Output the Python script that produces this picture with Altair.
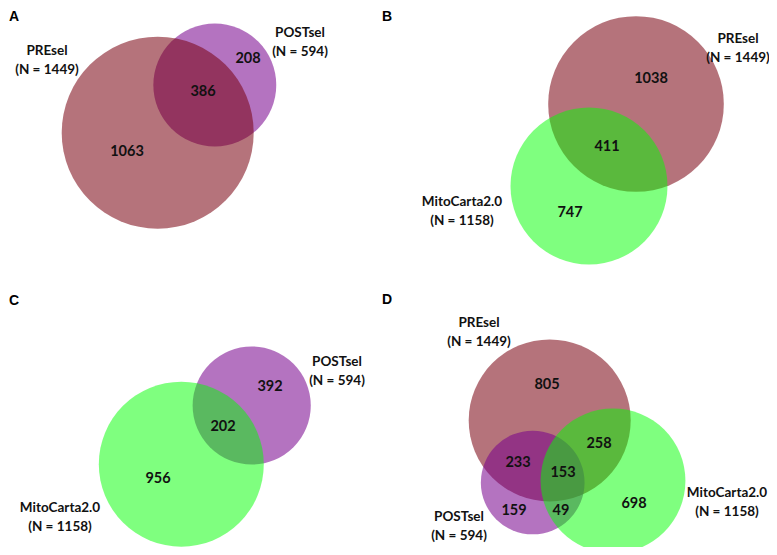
import altair as alt
import numpy as np
import pandas as pd

# ---------------- data ----------------
PANELS = ["A", "B", "C", "D"]
SET_NAMES = ["PREsel", "POSTsel", "MitoCarta2.0"]
SET_SIZES = [1449, 594, 1158]

# circles of each panel, in drawing order
CIRCLE_PANEL = ["A", "A", "B", "B", "C", "C", "D", "D", "D"]
CIRCLE_SET = ["POSTsel", "PREsel", "PREsel", "MitoCarta2.0",
              "POSTsel", "MitoCarta2.0", "PREsel", "POSTsel", "MitoCarta2.0"]

# region counts
COUNT_PANEL = ["A", "A", "A", "B", "B", "B", "C", "C", "C",
               "D", "D", "D", "D", "D", "D", "D"]
COUNT_VALUE = [1063, 386, 208, 1038, 411, 747, 956, 202, 392,
               805, 258, 233, 153, 159, 49, 698]

# set labels
LABEL_PANEL = ["A", "A", "B", "B", "C", "C", "D", "D", "D"]
LABEL_SET = ["PREsel", "POSTsel", "PREsel", "MitoCarta2.0",
             "POSTsel", "MitoCarta2.0", "PREsel", "POSTsel", "MitoCarta2.0"]

# ---------------- layout (page pixel coordinates) ----------------
PANEL_SCALE = {"A": 2.522, "B": 2.307, "C": 2.424, "D": 2.128}
CIRCLE_CX = [214.8, 157.7, 636.0, 589.0, 251.7, 181.3, 549.7, 532.7, 613.0]
CIRCLE_CY = [85.0, 132.7, 104.0, 186.0, 405.5, 464.2, 420.4, 482.5, 480.8]
COUNT_X = [127, 203, 248, 651, 607, 570, 158, 223, 270,
           547, 599, 518, 563, 514, 561, 634]
COUNT_Y = [152, 92, 59, 79, 147, 213, 479, 427, 387,
           385, 444, 463, 473, 511, 511, 504]
LABEL_X = [47, 300, 738, 462, 337, 60, 479, 459, 727]
LABEL_Y = [51, 33, 39, 202, 362, 508, 323, 517, 493]
LETTER_X = [14, 387, 14, 387]
LETTER_Y = [17, 17, 301, 300]

SET_COLOR = {"PREsel": "#78000f", "POSTsel": "#77008c", "MitoCarta2.0": "#00ff00"}
SET_ALPHA = {"PREsel": 0.55, "POSTsel": 0.55, "MitoCarta2.0": 0.5}
FONT = "Lato"

# ---------------- tables ----------------
n_of = dict(zip(SET_NAMES, SET_SIZES))
circles = pd.DataFrame({
    "panel": CIRCLE_PANEL, "set": CIRCLE_SET,
    "cx": CIRCLE_CX, "cy": CIRCLE_CY,
})
circles["N"] = circles["set"].map(n_of)
circles["r"] = circles["panel"].map(PANEL_SCALE) * np.sqrt(circles["N"])
circles["size"] = (2 * circles["r"]) ** 2
circles["alpha"] = circles["set"].map(SET_ALPHA)
circles["order"] = range(len(circles))

counts = pd.DataFrame({"panel": COUNT_PANEL, "value": COUNT_VALUE,
                       "x": COUNT_X, "y": COUNT_Y})

lab_rows = []
for p, s, x, y in zip(LABEL_PANEL, LABEL_SET, LABEL_X, LABEL_Y):
    lab_rows.append({"x": x, "y": y, "text": s})
    lab_rows.append({"x": x, "y": y + 19, "text": f"(N = {n_of[s]})"})
labels = pd.DataFrame(lab_rows)

letters = pd.DataFrame({"text": PANELS, "x": LETTER_X, "y": LETTER_Y})

W, H = 761, 539
xs = alt.Scale(domain=[8, 8 + W], nice=False, zero=False)
ys = alt.Scale(domain=[8, 8 + H], nice=False, zero=False, reverse=True)

circle_layer = alt.Chart(circles).mark_circle(strokeWidth=0).encode(
    x=alt.X("cx:Q", scale=xs, axis=None),
    y=alt.Y("cy:Q", scale=ys, axis=None),
    size=alt.Size("size:Q", scale=None),
    color=alt.Color("set:N", scale=alt.Scale(domain=list(SET_COLOR.keys()),
                                             range=list(SET_COLOR.values())),
                    legend=None),
    opacity=alt.Opacity("alpha:Q", scale=None),
    order=alt.Order("order:Q"),
)

count_layer = alt.Chart(counts).mark_text(
    font=FONT, fontSize=14.5, fontWeight="bold", color="#111111", baseline="middle"
).encode(
    x=alt.X("x:Q", scale=xs, axis=None),
    y=alt.Y("y:Q", scale=ys, axis=None),
    text="value:N",
)

label_layer = alt.Chart(labels).mark_text(
    font=FONT, fontSize=13.5, fontWeight="bold", color="#111111", baseline="middle"
).encode(
    x=alt.X("x:Q", scale=xs, axis=None),
    y=alt.Y("y:Q", scale=ys, axis=None),
    text="text:N",
)

letter_layer = alt.Chart(letters).mark_text(
    font="Liberation Sans", fontSize=14, fontWeight="bold", color="#000000",
    baseline="middle"
).encode(
    x=alt.X("x:Q", scale=xs, axis=None),
    y=alt.Y("y:Q", scale=ys, axis=None),
    text="text:N",
)

chart = alt.layer(circle_layer, count_layer, label_layer, letter_layer).properties(
    width=W, height=H, padding=0, autosize=alt.AutoSizeParams(type="none"),
    background="white",
).configure_view(stroke=None)

chart.save("out.html", embed_options={"renderer": "svg", "actions": False})
